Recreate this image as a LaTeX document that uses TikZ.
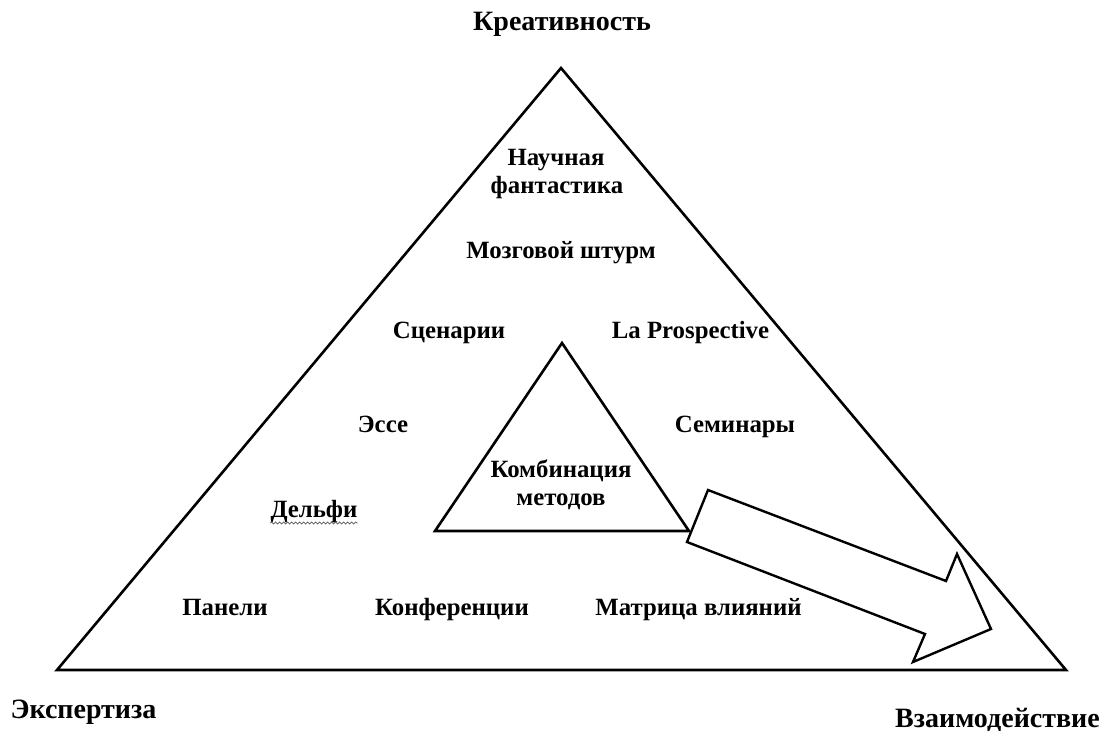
\documentclass[tikz,border=0pt]{standalone}
\usepackage{fontspec}
\setmainfont{Liberation Serif}
\usetikzlibrary{decorations.pathmorphing}
\begin{document}
\begin{tikzpicture}[x=1pt,y=-1pt,
  lbl/.style={font=\fontsize{24.8}{28}\selectfont\bfseries, inner sep=0pt, anchor=base},
  big/.style={font=\fontsize{28}{32}\selectfont\bfseries, inner sep=0pt, anchor=base},
  tri/.style={draw=black, line width=2.6pt, line join=miter},
  arr/.style={draw=black, fill=white, line width=2.4pt, line join=miter}]
\useasboundingbox (0,0) rectangle (1104,731);
% outer triangle
\coordinate (A) at (561,68);
\coordinate (B) at (57,670);
\coordinate (C) at (1066,670);
\draw[tri] (A) -- (B) -- (C) -- cycle;
% inner triangle
\coordinate (a) at (562,343);
\coordinate (b) at (435,531);
\coordinate (c) at (689,531);
\draw[tri] (a) -- (b) -- (c) -- cycle;
% block arrow
\coordinate (p1) at (708,490);
\coordinate (p2) at (946,581);
\coordinate (p3) at (957,554);
\coordinate (p4) at (991,629);
\coordinate (p5) at (913,662);
\coordinate (p6) at (925,634);
\coordinate (p7) at (687,542);
\draw[arr] (p1) -- (p2) -- (p3) -- (p4) -- (p5) -- (p6) -- (p7) -- cycle;
% corner labels
\node[big] (kre) at (562,30) {Креативность};
\node[big] (eks) at (83.5,718) {Экспертиза};
\node[big] (vza) at (997.5,727) {Взаимодействие};
% method labels
\node[lbl] (nf1) at (556,165) {Научная};
\node[lbl] (nf2) at (557,193) {фантастика};
\node[lbl] (ms) at (561,258) {Мозговой штурм};
\node[lbl] (sc) at (449,338) {Сценарии};
\node[lbl] (lp) at (690.5,338) {La Prospective};
\node[lbl] (es) at (383,432) {Эссе};
\node[lbl] (sm) at (735,432) {Семинары};
\node[lbl] (km1) at (561,477) {Комбинация};
\node[lbl] (km2) at (561,505) {методов};
\node[lbl] (de) at (314,517) {Дельфи};
\node[lbl] (pa) at (225,615) {Панели};
\node[lbl] (ko) at (452,615) {Конференции};
\node[lbl] (mv) at (698.5,615) {Матрица влияний};
% spell-check wavy underline under Дельфи
\draw[gray!70!black, line width=0.7pt, decorate, decoration={snake, amplitude=1.1pt, segment length=4pt}]
  ([yshift=-6pt]de.base west) -- ([yshift=-6pt]de.base east);
\end{tikzpicture}
\end{document}
